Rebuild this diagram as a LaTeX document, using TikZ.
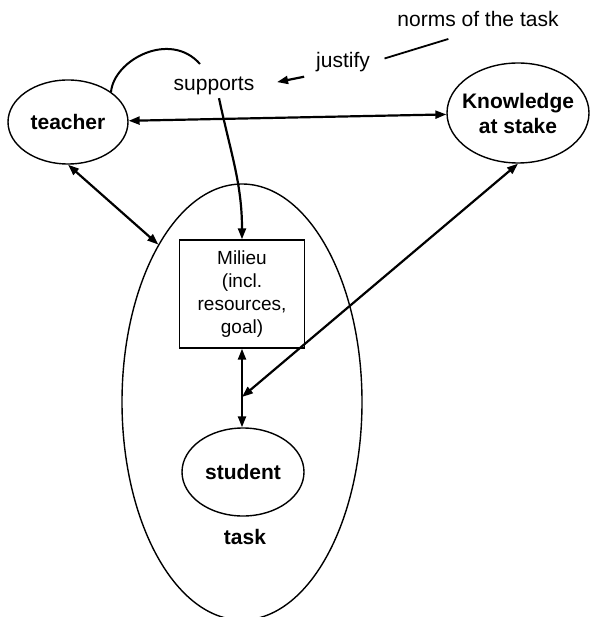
\documentclass[tikz,border=0pt]{standalone}
\usepackage{fontspec}
\setmainfont{Liberation Sans}
\usetikzlibrary{shapes.geometric,arrows.meta}

\begin{document}
\begin{tikzpicture}[x=1pt,y=-1pt,
    every node/.style={font=\fontsize{21}{25}\selectfont,inner sep=3pt},
    oval/.style={draw,ellipse,line width=1.4pt,inner sep=0pt},
    both/.style={line width=2.2pt,{Triangle[length=11pt,width=8pt]}-{Triangle[length=11pt,width=8pt]}},
    one/.style={line width=2.2pt,-{Triangle[length=11pt,width=8pt]}}]
  \useasboundingbox (0,0) rectangle (590,617);
  \draw
    (242,402) node[oval,minimum width=240pt,minimum height=436pt] (task){}
    (68,122) node[oval,minimum width=120pt,minimum height=84pt] (teacher){\bfseries teacher}
    (518,113) node[oval,minimum width=142pt,minimum height=100pt,
      label={[align=center,font=\fontsize{21}{25}\selectfont\bfseries]center:Knowledge\\at stake}] (know){}
    (243,472) node[oval,minimum width=122pt,minimum height=88pt] (student){\bfseries student}
    (242,294) node[draw,line width=1.4pt,minimum width=125pt,minimum height=108pt,
      align=center,font=\fontsize{19}{23}\selectfont] (milieu){Milieu\\(incl.\\resources,\\goal)}
    (245,537) node (tasklbl){\bfseries task}
    (214,86) node (sup){supports}
    (343,62) node (jus){justify}
    (478,19) node (norms){norms of the task};
  \coordinate (meet) at (242,397);
  \coordinate (loop) at (200,64);
  \begin{scope}[both]
    \draw (teacher) -- (know);
    \draw (teacher.south) -- (task.118);
    \draw (milieu.south) -- (milieu.south |- student.north);
    \draw (know.south) -- (meet);
  \end{scope}
  \draw[one] ([xshift=5pt]sup.south) to[out=-78,in=90] (milieu.north);
  \draw[one,shorten <=9pt,shorten >=20pt] (jus.south west) -- (sup.east);
  \draw[line width=2pt] (teacher.35) .. controls +(3,-32) and +(-30,-34) .. (loop);
  \draw[line width=1.8pt,shorten <=31pt,shorten >=12pt] (norms.south) -- (jus.east);
\end{tikzpicture}
\end{document}
